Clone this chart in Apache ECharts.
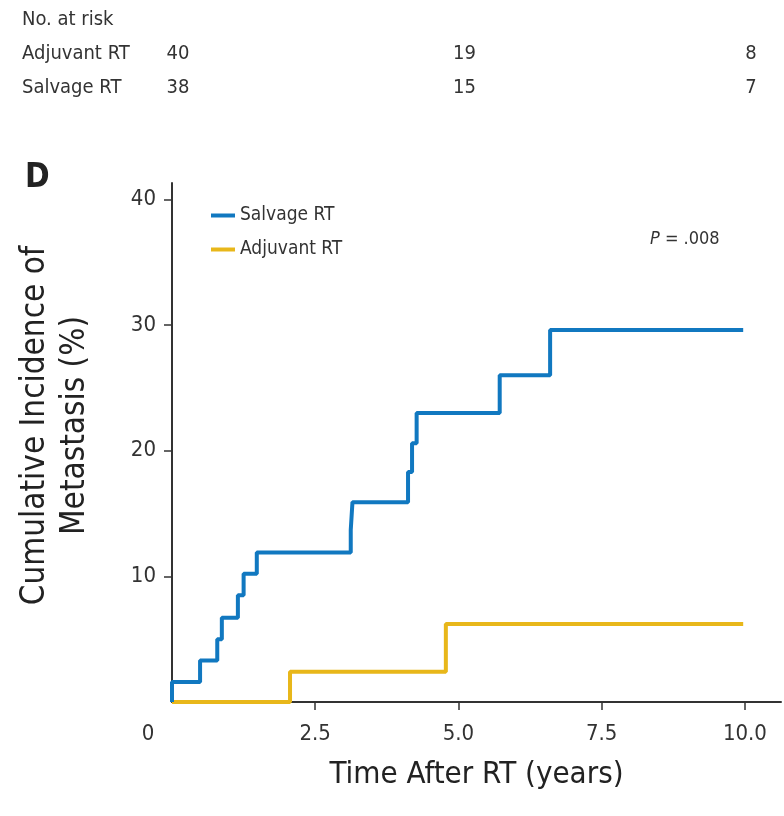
<!DOCTYPE html>
<html>
<head>
<meta charset="utf-8">
<script src="https://cdn.jsdelivr.net/npm/echarts@6/dist/echarts.min.js"></script>
<style>
html,body{margin:0;padding:0;background:#fff;}
#chart{width:784px;height:816px;}
</style>
</head>
<body>
<div id="chart"></div>
<script>
// ---- data ----
const salvageTimes = [0, 0, 0.49, 0.79, 0.87, 1.15, 1.25, 1.48, 3.12, 3.15, 4.12, 4.19, 4.27, 5.72, 6.60, 9.97];
const salvageValues = [0, 1.6, 3.3, 5.0, 6.7, 8.5, 10.2, 11.9, 13.7, 15.9, 18.3, 20.6, 23.0, 26.0, 29.6, 29.6];
const adjuvantTimes = [0, 2.06, 4.78, 9.97];
const adjuvantValues = [0, 2.4, 6.2, 6.2];
const xTicks = [0, 2.5, 5, 7.5, 10];
const yTicks = [10, 20, 30, 40];
const riskTimes = [0, 5, 10];
const riskAdjuvant = [40, 19, 8];
const riskSalvage = [38, 15, 7];
const seriesNames = ['Salvage RT', 'Adjuvant RT'];

const FONT = '"Liberation Sans Narrow", "DejaVu Sans Condensed", "Roboto Condensed", sans-serif';
const BLUE = '#1178c0';
const YELLOW = '#e8b71a';
const AXIS = '#333333';

const chart = echarts.init(document.getElementById('chart'), null, {renderer: 'canvas'});

const grid = {left: 172, right: 3, top: 183, bottom: 114};
const xMax = 10.63, yMax = 41.3;

function pairs(t, v) { return t.map((x, i) => [x, v[i]]); }

function riskGraphics() {
  const g = [];
  const f = '20px ' + FONT;
  g.push({type: 'text', left: 22, top: 10, style: {text: 'No. at risk', font: f, fill: '#333'}});
  g.push({type: 'text', left: 22, top: 44, style: {text: 'Adjuvant RT', font: f, fill: '#333'}});
  g.push({type: 'text', left: 22, top: 78, style: {text: 'Salvage RT', font: f, fill: '#333'}});
  riskTimes.forEach((t, i) => {
    const x = chart.convertToPixel({xAxisIndex: 0}, t) + 6;
    g.push({type: 'text', x: x, y: 44, style: {text: String(riskAdjuvant[i]), font: f, fill: '#333', textAlign: 'center'}});
    g.push({type: 'text', x: x, y: 78, style: {text: String(riskSalvage[i]), font: f, fill: '#333', textAlign: 'center'}});
  });
  g.push({type: 'text', left: 25, top: 162, style: {text: 'D', font: 'bold 33px ' + FONT, fill: '#222'}});
  g.push({type: 'text', left: 650, top: 230, style: {
    text: '{i|P} = .008', font: '18px ' + FONT, fill: '#333',
    rich: {i: {fontStyle: 'italic', fontSize: 18, fontFamily: FONT, fill: '#333'}}
  }});
  return g;
}

const option = {
  animation: false,
  backgroundColor: '#ffffff',
  grid: grid,
  legend: {
    data: seriesNames,
    orient: 'vertical',
    left: 206, top: 201,
    icon: 'rect',
    itemWidth: 24, itemHeight: 4,
    itemGap: 15,
    textStyle: {fontFamily: FONT, fontSize: 19, color: '#333'}
  },
  xAxis: {
    type: 'value', min: 0, max: xMax,
    name: 'Time After RT (years)',
    nameLocation: 'middle', nameGap: 57,
    nameTextStyle: {fontFamily: FONT, fontSize: 31, color: '#222'},
    axisLine: {show: true, onZero: false, lineStyle: {color: AXIS, width: 2}},
    axisTick: {show: true, length: 8, lineStyle: {color: AXIS, width: 1.5}, customValues: [2.5, 5, 7.5, 10]},
    axisLabel: {
      customValues: xTicks, margin: 21,
      fontFamily: FONT, fontSize: 22, color: '#333',
      formatter: v => v === 0 ? '{z|0}' : v.toFixed(1),
      rich: {z: {fontFamily: FONT, fontSize: 22, color: '#333', padding: [0, 48, 0, 0]}}
    },
    splitLine: {show: false}
  },
  yAxis: {
    type: 'value', min: 0, max: yMax,
    name: 'Cumulative Incidence of\nMetastasis (%)',
    nameLocation: 'middle', nameGap: 77,
    nameTextStyle: {fontFamily: FONT, fontSize: 33, color: '#222', lineHeight: 40, padding: [0, 0, 0, 34]},
    axisLine: {show: true, lineStyle: {color: AXIS, width: 2}},
    axisTick: {show: true, length: 8, lineStyle: {color: AXIS, width: 1.5}, customValues: yTicks},
    axisLabel: {customValues: yTicks, margin: 16, fontFamily: FONT, fontSize: 22, color: '#333'},
    splitLine: {show: false}
  },
  series: [
    {
      name: seriesNames[0], type: 'line', step: 'end', showSymbol: false, symbol: 'none',
      data: pairs(salvageTimes, salvageValues),
      lineStyle: {color: BLUE, width: 4}, itemStyle: {color: BLUE}, z: 3
    },
    {
      name: seriesNames[1], type: 'line', step: 'end', showSymbol: false, symbol: 'none',
      data: pairs(adjuvantTimes, adjuvantValues),
      lineStyle: {color: YELLOW, width: 4}, itemStyle: {color: YELLOW}, z: 2
    }
  ]
};
chart.setOption(option);
chart.setOption({graphic: riskGraphics()});
</script>
</body>
</html>
